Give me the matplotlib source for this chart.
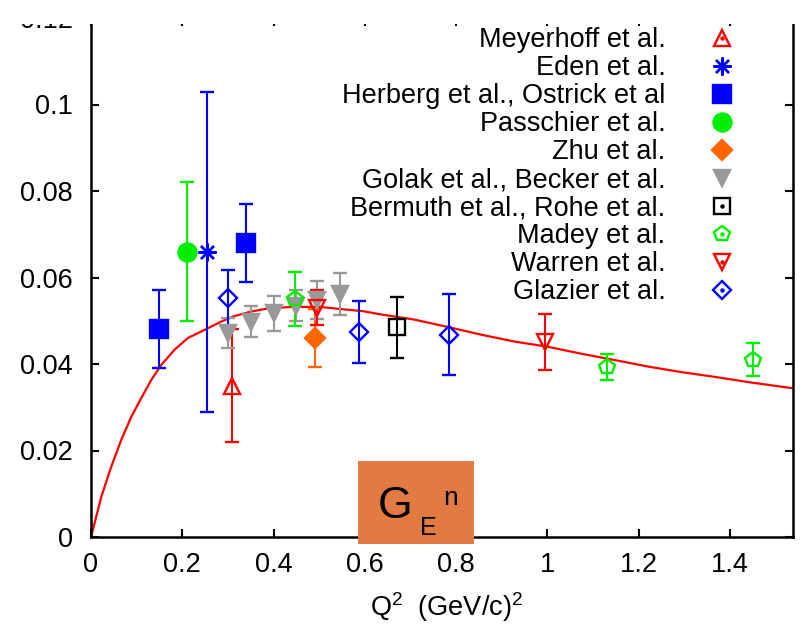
import matplotlib
matplotlib.use("Agg")
import matplotlib.pyplot as plt
from matplotlib.lines import Line2D
from matplotlib.patches import Rectangle

plt.rcParams['font.family'] = ['Liberation Sans', 'DejaVu Sans']
plt.rcParams['mathtext.default'] = 'regular'

# ---- measurements: Q^2 (GeV/c)^2, G_E^n, error ----
meyerhoff_q2 = [0.31]
meyerhoff_g = [0.035]
meyerhoff_err = [0.013]

eden_q2 = [0.255]
eden_g = [0.066]
eden_err = [0.037]

herberg_q2 = [0.15, 0.34]
herberg_g = [0.048, 0.068]
herberg_err = [0.009, 0.009]

passchier_q2 = [0.21]
passchier_g = [0.066]
passchier_err = [0.016]

zhu_q2 = [0.49]
zhu_g = [0.046]
zhu_err = [0.0067]

golak_q2 = [0.30, 0.35, 0.40, 0.45, 0.495, 0.545]
golak_g = [0.0472, 0.0498, 0.0517, 0.0535, 0.0547, 0.0562]
golak_err = [0.0035, 0.0036, 0.0040, 0.0036, 0.0044, 0.0048]

bermuth_q2 = [0.67]
bermuth_g = [0.0485]
bermuth_err = [0.0071]

madey_q2 = [0.447, 1.13, 1.45]
madey_g = [0.0551, 0.0392, 0.0410]
madey_err = [0.0062, 0.0030, 0.0038]

warren_q2 = [0.495, 0.995]
warren_g = [0.0530, 0.0451]
warren_err = [0.0040, 0.0065]

glazier_q2 = [0.30, 0.587, 0.785]
glazier_g = [0.0552, 0.0474, 0.0468]
glazier_err = [0.0065, 0.0072, 0.0093]

# ---- fit curve ----
fit_q2 = [0.0, 0.0226, 0.0445, 0.0664, 0.0883, 0.110, 0.132, 0.154, 0.183, 0.212,
          0.249, 0.285, 0.315, 0.350, 0.390, 0.443, 0.502, 0.538, 0.597, 0.633,
          0.707, 0.780, 0.854, 0.927, 1.0, 1.073, 1.148, 1.221, 1.295, 1.368,
          1.441, 1.537]
fit_g = [0.0, 0.0093, 0.0163, 0.0225, 0.0278, 0.0321, 0.0363, 0.0398, 0.0433, 0.0460,
         0.0479, 0.0498, 0.0511, 0.0521, 0.0529, 0.0532, 0.0532, 0.0528, 0.0522, 0.0515,
         0.0503, 0.0486, 0.0468, 0.0452, 0.0440, 0.0424, 0.0409, 0.0394, 0.0381, 0.0370,
         0.0358, 0.0344]

x_ticks = [0, 0.2, 0.4, 0.6, 0.8, 1.0, 1.2, 1.4]
x_tick_labels = ["0", "0.2", "0.4", "0.6", "0.8", "1", "1.2", "1.4"]
y_ticks = [0, 0.02, 0.04, 0.06, 0.08, 0.10, 0.12]
y_tick_labels = ["0", "0.02", "0.04", "0.06", "0.08", "0.1", "0.12"]

W, H = 800, 627
fig = plt.figure(figsize=(W / 100, H / 100), dpi=100)
ax = fig.add_axes([91 / W, 90 / H, 702 / W, 519 / H])

ax.plot(fit_q2, fit_g, color='#ff0000', lw=1.6, zorder=1)

FS = 19.5
ERR_KW = dict(ls='none', elinewidth=1.5, capsize=5, capthick=1.5, zorder=3)

series = [
    # label, q2, g, err, color, marker, size, filled
    ("Meyerhoff et al.", meyerhoff_q2, meyerhoff_g, meyerhoff_err, '#ff0000', '^', 12, False),
    ("Eden et al.", eden_q2, eden_g, eden_err, '#0000ff', (8, 2, 0), 13, True),
    ("Herberg et al., Ostrick et al", herberg_q2, herberg_g, herberg_err, '#0000ff', 's', 13.5, True),
    ("Passchier et al.", passchier_q2, passchier_g, passchier_err, '#00ee00', 'o', 13, True),
    ("Zhu et al.", zhu_q2, zhu_g, zhu_err, '#ff6600', 'D', 10, True),
    ("Golak et al., Becker et al.", golak_q2, golak_g, golak_err, '#999999', 'v', 12, True),
    ("Bermuth et al., Rohe et al.", bermuth_q2, bermuth_g, bermuth_err, '#000000', 's', 11, False),
    ("Madey et al.", madey_q2, madey_g, madey_err, '#00ee00', 'p', 11.5, False),
    ("Warren et al.", warren_q2, warren_g, warren_err, '#ff0000', 'v', 12, False),
    ("Glazier et al.", glazier_q2, glazier_g, glazier_err, '#0000ff', 'D', 9, False),
]

handles, labels = [], []
for label, q2, g, err, col, mk, ms, filled in series:
    face = col if filled else 'none'
    ax.errorbar(q2, g, yerr=err, marker=mk, color=col, ecolor=col, ms=ms,
                mfc=face, mec=col, mew=1.7, **ERR_KW)
    h = Line2D([], [], ls='none', marker=mk, color=col, ms=ms, mfc=face,
               mec=col, mew=1.7)
    if not filled:
        dot = Line2D([], [], ls='none', marker='o', color=col, ms=2.2)
        h = (h, dot)
    handles.append(h)
    labels.append(label)

ax.set_xlim(0, 1.538)
ax.set_ylim(0, 0.12)
ax.set_xticks(x_ticks)
ax.set_xticklabels(x_tick_labels)
ax.set_yticks(y_ticks)
ax.set_yticklabels(y_tick_labels)
ax.tick_params(direction='in', length=6, width=1.5, top=True, right=True,
               labelsize=FS, colors='black')
ax.tick_params(axis='x', pad=11)
ax.tick_params(axis='y', pad=13)
for sp in ax.spines.values():
    sp.set_linewidth(1.8)

ax.set_xlabel("Q$^2$  (GeV/c)$^2$", fontsize=FS)
ax.xaxis.set_label_coords(0.506, -0.103)

leg = ax.legend(handles, labels, loc='upper right',
                bbox_to_anchor=(736 / W, 1 - 27 / H), bbox_transform=fig.transFigure,
                markerfirst=False, frameon=False, fontsize=FS, handlelength=1.0,
                handletextpad=1.6, labelspacing=0.075, borderpad=0, borderaxespad=0,
                numpoints=1)

# G_E^n tag
def fx(px):
    return px / W

def fy(py):
    return 1 - py / H

fig.add_artist(Rectangle((fx(358), fy(544)), 116 / W, 83 / H, transform=fig.transFigure,
                         facecolor='#e27b42', edgecolor='none', zorder=4))
fig.text(fx(378), fy(518), "G", fontsize=32, ha='left', va='baseline', zorder=5)
fig.text(fx(420), fy(535), "E", fontsize=18, ha='left', va='baseline', zorder=5)
fig.text(fx(443), fy(505), "n", fontsize=19, ha='left', va='baseline', zorder=5)

# blank strip along the top edge
fig.add_artist(Rectangle((0, fy(24)), 1, 24 / H, transform=fig.transFigure,
                         facecolor='white', edgecolor='none', zorder=6))

fig.savefig("out.png", dpi=100)
